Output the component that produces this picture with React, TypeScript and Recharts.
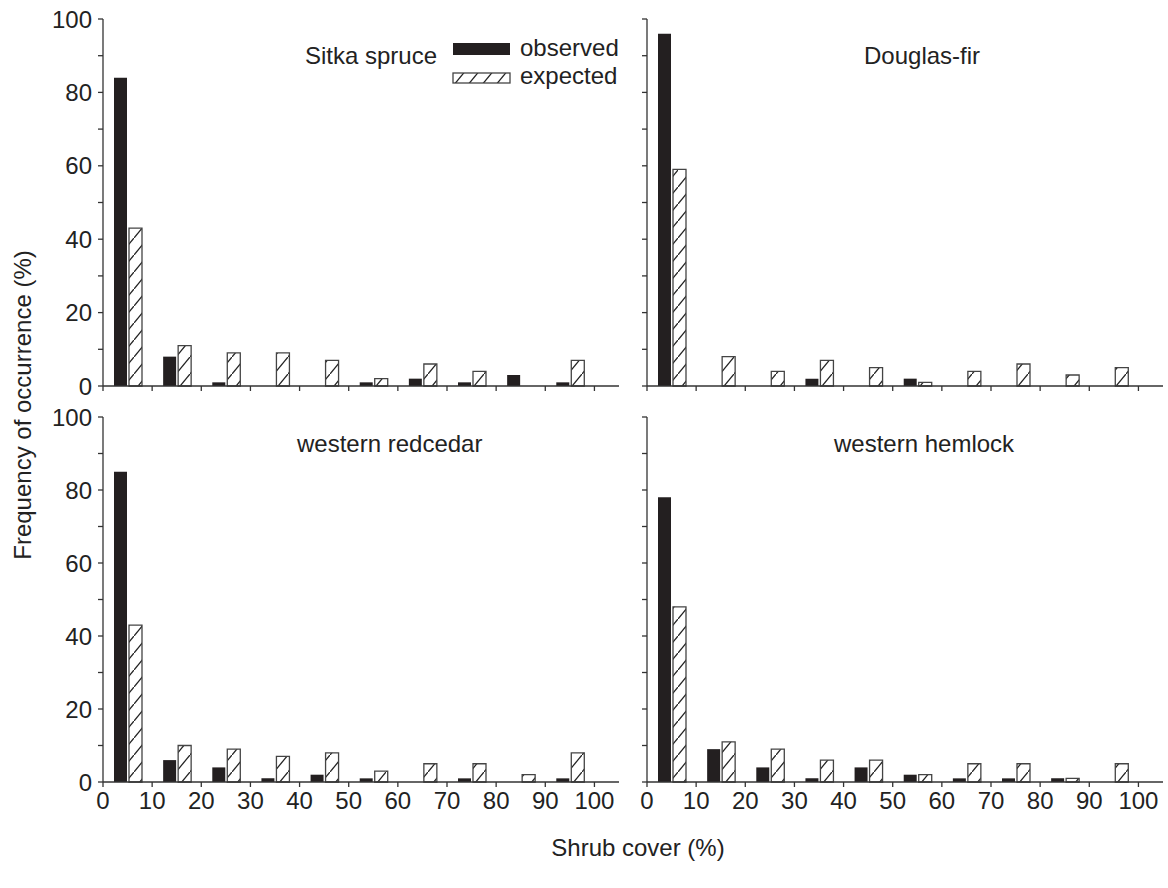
import React from 'react';
import { BarChart, Bar, XAxis, YAxis, Legend } from 'recharts';

// shrub cover classes (bin centres, %)
const bins = [5, 15, 25, 35, 45, 55, 65, 75, 85, 95];
const xTicks = [0, 10, 20, 30, 40, 50, 60, 70, 80, 90, 100];
const yTicks = [0, 10, 20, 30, 40, 50, 60, 70, 80, 90, 100];
const legendOrder = ['observed', 'expected'];

// frequency of occurrence (%)
const sitkaObserved = [84, 8, 1, 0, 0, 1, 2, 1, 3, 1];
const sitkaExpected = [43, 11, 9, 9, 7, 2, 6, 4, 0, 7];
const douglasObserved = [96, 0, 0, 2, 0, 2, 0, 0, 0, 0];
const douglasExpected = [59, 8, 4, 7, 5, 1, 4, 6, 3, 5];
const redcedarObserved = [85, 6, 4, 1, 2, 1, 0, 1, 0, 1];
const redcedarExpected = [43, 10, 9, 7, 8, 3, 5, 5, 2, 8];
const hemlockObserved = [78, 9, 4, 1, 4, 2, 1, 1, 1, 0];
const hemlockExpected = [48, 11, 9, 6, 6, 2, 5, 5, 1, 5];

const FONT = '"Liberation Sans", Arial, sans-serif';
const INK = '#222';
const BLACK = '#231f20';
const PLOT_W = 516;
const Y_AXIS_W = 95;
const TOP_PAD = 19;

const toRows = (obs: number[], exp: number[]) =>
    bins.map((b, i) => ({ bin: b, observed: obs[i], expected: exp[i] }));

const renderLegend = (props: any) => {
    const items = [...(props.payload || [])].sort(
        (a: any, b: any) => legendOrder.indexOf(a.value) - legendOrder.indexOf(b.value)
    );
    return (
        <svg width={180} height={52} style={{ display: 'block', overflow: 'visible' }}>
            {items.map((p: any, i: number) => (
                <g key={p.value} transform={`translate(0, ${i * 30})`}>
                    <rect
                        x={0}
                        y={4}
                        width={57}
                        height={i === 0 ? 12 : 10}
                        fill={p.color}
                        stroke={i === 0 ? 'none' : '#444'}
                        strokeWidth={1.3}
                    />
                    <text x={67} y={i === 0 ? 17 : 15} fontSize={24} fill={INK} fontFamily={FONT}>
                        {p.value}
                    </text>
                </g>
            ))}
        </svg>
    );
};

interface PanelProps {
    plotLeft: number;
    plotTop: number;
    plotH: number;
    obs: number[];
    exp: number[];
    showYLabels: boolean;
    showXLabels: boolean;
    legend?: boolean;
}

const Panel: React.FC<PanelProps> = ({ plotLeft, plotTop, plotH, obs, exp, showYLabels, showXLabels, legend }) => {
    const data = toRows(obs, exp);
    return (
        <div style={{ position: 'absolute', left: plotLeft - Y_AXIS_W, top: plotTop - TOP_PAD }}>
            <BarChart
                width={Y_AXIS_W + PLOT_W + 10}
                height={TOP_PAD + plotH + 50}
                data={data}
                margin={{ top: TOP_PAD, right: 10, bottom: 0, left: 0 }}
                barSize={13}
                barGap={2}
            >
                <XAxis
                    dataKey="bin"
                    type="number"
                    domain={[0, 105]}
                    ticks={xTicks}
                    interval={0}
                    height={50}
                    stroke="#333"
                    strokeWidth={1.3}
                    tickSize={5}
                    tickMargin={5}
                    tick={{ fontSize: 24, fill: INK }}
                    tickFormatter={(v: number) => (showXLabels ? String(v) : '')}
                />
                <YAxis
                    type="number"
                    domain={[0, 100]}
                    ticks={yTicks}
                    interval={0}
                    width={Y_AXIS_W}
                    stroke="#333"
                    strokeWidth={1.3}
                    tickSize={5}
                    tickMargin={6}
                    tick={{ fontSize: 24, fill: INK }}
                    tickFormatter={(v: number) => (showYLabels && v % 20 === 0 ? String(v) : '')}
                />
                {legend && (
                    <Legend
                        layout="vertical"
                        align="center"
                        verticalAlign="middle"
                        content={renderLegend}
                        wrapperStyle={{
                            left: 453 - plotLeft + Y_AXIS_W,
                            top: 39 - plotTop + TOP_PAD,
                            width: 180,
                            height: 52,
                        }}
                    />
                )}
                <Bar dataKey="observed" name="observed" fill={BLACK} isAnimationActive={false} />
                <Bar
                    dataKey="expected"
                    name="expected"
                    fill="url(#hatch)"
                    stroke="#444"
                    strokeWidth={1.3}
                    isAnimationActive={false}
                />
            </BarChart>
        </div>
    );
};

const App: React.FC = () => {
    return (
        <div
            style={{
                position: 'absolute',
                left: 0,
                top: 0,
                width: 1168,
                height: 888,
                background: '#fff',
                fontFamily: FONT,
                color: INK,
            }}
        >
            <svg width={0} height={0} style={{ position: 'absolute' }}>
                <defs>
                    <pattern id="hatch" patternUnits="userSpaceOnUse" width={14} height={17}>
                        <rect width={14} height={17} fill="#fff" />
                        <path d="M0,17 L14,0" stroke={INK} strokeWidth={1.3} />
                    </pattern>
                </defs>
            </svg>

            <Panel plotLeft={103} plotTop={19} plotH={367} obs={sitkaObserved} exp={sitkaExpected} showYLabels showXLabels={false} legend />
            <Panel plotLeft={647} plotTop={19} plotH={367} obs={douglasObserved} exp={douglasExpected} showYLabels={false} showXLabels={false} />
            <Panel plotLeft={103} plotTop={417} plotH={365} obs={redcedarObserved} exp={redcedarExpected} showYLabels showXLabels />
            <Panel plotLeft={647} plotTop={417} plotH={365} obs={hemlockObserved} exp={hemlockExpected} showYLabels={false} showXLabels />

            {/* panel titles and axis titles */}
            <svg width={1168} height={888} style={{ position: 'absolute', left: 0, top: 0, pointerEvents: 'none' }}>
                <g fontSize={24} fill={INK} fontFamily={FONT}>
                    <text x={305} y={64}>Sitka spruce</text>
                    <text x={864} y={64}>Douglas-fir</text>
                    <text x={297} y={452}>western redcedar</text>
                    <text x={834} y={452}>western hemlock</text>
                    <text x={638} y={856} textAnchor="middle">Shrub cover (%)</text>
                    <text x={31} y={405} textAnchor="middle" transform="rotate(-90, 31, 405)">
                        Frequency of occurrence (%)
                    </text>
                </g>
            </svg>
        </div>
    );
};

export default App;
